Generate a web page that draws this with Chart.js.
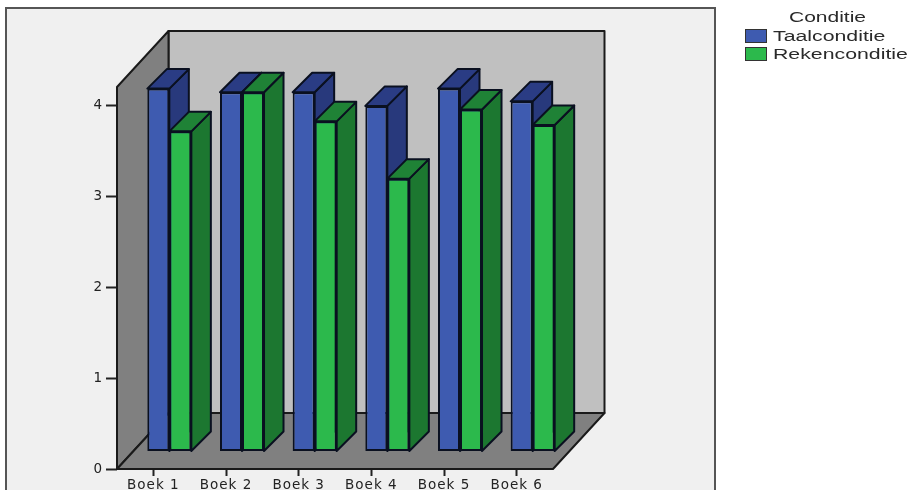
<!DOCTYPE html>
<html>
<head>
<meta charset="utf-8">
<style>
html, body { margin: 0; padding: 0; background: #fff; overflow: hidden; }
#wrap { position: relative; width: 912px; height: 490px; }
canvas { position: absolute; left: 0; top: 0; }
#legend { position: absolute; left: 745px; top: 8px; width: 165px; font: 14px "Liberation Sans", sans-serif; color: #2a2a2a; }
#legend .title { position: absolute; left: 44px; top: 1px; white-space: nowrap; transform: scaleX(1.5); transform-origin: left top; }
#legend .row { position: absolute; left: 0; height: 14px; }
#legend .box { position: absolute; left: 0; top: 0; width: 20px; height: 12px; border: 1.5px solid #333; }
#legend .label { position: absolute; left: 28px; top: -1px; white-space: nowrap; transform: scaleX(1.52); transform-origin: left top; }
</style>
</head>
<body>
<div id="wrap">
  <canvas id="barChart" width="912" height="490"></canvas>
  <div id="legend"></div>
</div>
<script src="https://cdn.jsdelivr.net/npm/chart.js@4"></script>
<script>
var categories = ['Boek 1', 'Boek 2', 'Boek 3', 'Boek 4', 'Boek 5', 'Boek 6'];
var taalValues = [3.99, 3.95, 3.95, 3.80, 3.99, 3.85];
var rekenValues = [3.52, 3.95, 3.63, 3.00, 3.76, 3.59];
var seriesNames = ['Taalconditie', 'Rekenconditie'];
var legendTitle = 'Conditie';

// front, side and top colours of the bars
var frontColors = ['#3e5bb0', '#2cb94c'];
var sideColors = ['#28397c', '#1c7730'];
var topColors = ['#2a3c84', '#1f8236'];

var wallDepthX = 51.5, wallDepthY = 56;   // how far the back wall sits behind the axes
var barShiftX = 16, barShiftY = 17.5;     // bars stand a bit inside the floor
var barDepth = 19.5;

function poly(ctx, pts, fill) {
  ctx.beginPath();
  ctx.moveTo(pts[0][0], pts[0][1]);
  for (var i = 1; i < pts.length; i++) {
    ctx.lineTo(pts[i][0], pts[i][1]);
  }
  ctx.closePath();
  ctx.fillStyle = fill;
  ctx.fill();
  ctx.stroke();
}

// panel, grey box and the bars drawn left series first so the right one overlaps it
var boxPlugin = {
  id: 'box3d',
  beforeDraw: function (chart) {
    var ctx = chart.ctx;
    ctx.letterSpacing = '1px';
    ctx.save();
    ctx.fillStyle = '#f0f0f0';
    ctx.strokeStyle = '#555';
    ctx.lineWidth = 2;
    ctx.fillRect(6, 8, 709, 490);
    ctx.strokeRect(6, 8, 709, 490);
    ctx.restore();
  },
  beforeDatasetsDraw: function (chart) {
    var ctx = chart.ctx;
    var a = chart.chartArea;
    var t = a.top, b = a.bottom, l = a.left, r = a.right;
    ctx.save();
    ctx.strokeStyle = '#1a1a1a';
    ctx.lineWidth = 2;
    ctx.lineJoin = 'round';
    poly(ctx, [[l + wallDepthX, t - wallDepthY], [r + wallDepthX, t - wallDepthY], [r + wallDepthX, b - wallDepthY], [l + wallDepthX, b - wallDepthY]], '#c0c0c0');
    poly(ctx, [[l, t], [l + wallDepthX, t - wallDepthY], [l + wallDepthX, b - wallDepthY], [l, b]], '#808080');
    poly(ctx, [[l, b], [l + wallDepthX, b - wallDepthY], [r + wallDepthX, b - wallDepthY], [r, b]], '#808080');
    ctx.restore();
  },
  beforeDatasetDraw: function () {
    return false;
  },
  afterDatasetsDraw: function (chart) {
    var ctx = chart.ctx;
    chart.data.datasets.forEach(function (ds, index) {
      var meta = chart.getDatasetMeta(index);
      ctx.save();
      ctx.translate(barShiftX, -barShiftY);
      ctx.strokeStyle = '#0a1020';
      ctx.lineWidth = 2;
      ctx.lineJoin = 'round';
      meta.data.forEach(function (bar) {
        var p = bar.getProps(['x', 'y', 'base', 'width'], true);
        var left = p.x - p.width / 2, right = p.x + p.width / 2;
        poly(ctx, [[right, p.y], [right + barDepth, p.y - barDepth], [right + barDepth, p.base - barDepth], [right, p.base]], sideColors[index]);
        poly(ctx, [[left, p.y], [left + barDepth, p.y - barDepth], [right + barDepth, p.y - barDepth], [right, p.y]], topColors[index]);
      });
      meta.controller.draw();
      ctx.restore();
    });
  }
};

var barChart = new Chart(document.getElementById('barChart').getContext('2d'), {
  type: 'bar',
  plugins: [boxPlugin],
  data: {
    labels: categories,
    datasets: [
      { label: seriesNames[0], data: taalValues, backgroundColor: frontColors[0] },
      { label: seriesNames[1], data: rekenValues, backgroundColor: frontColors[1] }
    ]
  },
  options: {
    responsive: false,
    animation: false,
    layout: { padding: { left: 0, right: 359, top: 87, bottom: 0 } },
    plugins: { legend: { display: false }, tooltip: { enabled: false } },
    datasets: {
      bar: {
        categoryPercentage: 0.606,
        barPercentage: 1,
        borderColor: '#0a1020',
        borderWidth: 2,
        borderSkipped: false
      }
    },
    scales: {
      x: {
        grid: { offset: false, drawOnChartArea: false, tickLength: 7, tickColor: '#222', tickWidth: 2 },
        border: { display: false },
        ticks: { color: '#222', padding: 1, maxRotation: 0, autoSkip: false, font: { family: 'DejaVu Sans', size: 13.5 } },
        afterFit: function (s) { s.height = 21; }
      },
      y: {
        min: 0,
        max: 4.2,
        grid: { drawOnChartArea: false, tickLength: 11, tickColor: '#222', tickWidth: 2 },
        border: { display: false },
        ticks: { stepSize: 1, includeBounds: false, color: '#222', padding: 3, font: { family: 'DejaVu Sans', size: 13.5 } },
        afterFit: function (s) { s.width = 117; }
      }
    }
  }
});

// legend next to the panel
var legend = document.getElementById('legend');
var html = '<div class="title">' + legendTitle + '</div>';
seriesNames.forEach(function (name, i) {
  html += '<div class="row" style="top:' + (21 + i * 18) + 'px"><div class="box" style="background:' + frontColors[i] + '"></div><div class="label">' + name + '</div></div>';
});
legend.innerHTML = html;
</script>
</body>
</html>
